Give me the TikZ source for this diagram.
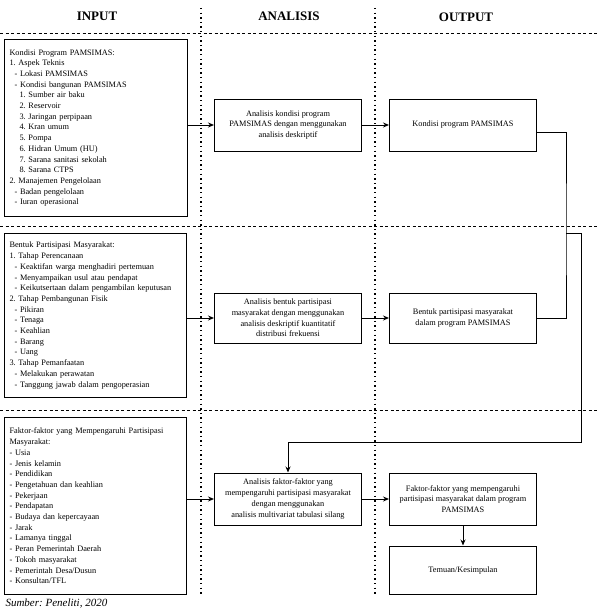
\documentclass[tikz,border=0pt]{standalone}
\usepackage{fontspec}
\setmainfont{Liberation Serif}
\usepackage{tikz}
\usetikzlibrary{positioning, arrows.meta, calc}
\frenchspacing
\newcommand{\boxtext}{\fontsize{8.3}{10.7}\selectfont}
\newcommand{\ind}[1]{\hspace*{#1}}
\tikzset{inbox/.style={draw, line width=1pt, anchor=north west, align=left, font=\boxtext, inner xsep=5pt, inner ysep=0pt},
stage/.style={draw, line width=1pt, align=center, font=\boxtext, minimum width=147pt, minimum height=52pt, inner sep=2pt},
head/.style={font=\fontsize{13}{15}\selectfont\bfseries},
flow/.style={-{Stealth[length=6pt, width=5pt]}, line width=1pt},
link/.style={line width=1pt},
sep_h/.style={dash pattern=on 3pt off 2.5pt, line width=0.9pt},
sep_v/.style={dash pattern=on 1.4pt off 3.2pt, line width=1.3pt}}

\begin{document}
\begin{tikzpicture}[x=1pt, y=-1pt]
  \useasboundingbox (0,0) rectangle (597,610);
  % column heads and separators
  \node[head] (h_in) at (97,16) {INPUT};
  \node[head] (h_an) at (289,16) {ANALISIS};
  \node[head] (h_out) at (466,17) {OUTPUT};
  \foreach \yy in {33,226,410}
    \draw[sep_h] (0,\yy) -- (597,\yy);
  \foreach \xx in {201,375}
    \draw[sep_v] (\xx,8) -- (\xx,595);
  % input
  \node[inbox, text width=173pt, minimum height=177pt] (in_kondisi) at (4,39) {Kondisi Program PAMSIMAS:\\
    1. Aspek Teknis\\
    \ind{5pt}- Lokasi PAMSIMAS\\
    \ind{5pt}- Kondisi bangunan PAMSIMAS\\
    \ind{10pt}1. Sumber air baku\\
    \ind{10pt}2. Reservoir\\
    \ind{10pt}3. Jaringan perpipaan\\
    \ind{10pt}4. Kran umum\\
    \ind{10pt}5. Pompa\\
    \ind{10pt}6. Hidran Umum (HU)\\
    \ind{10pt}7. Sarana sanitasi sekolah\\
    \ind{10pt}8. Sarana CTPS\\
    2. Manajemen Pengelolaan\\
    \ind{5pt}- Badan pengelolaan\\
    \ind{5pt}- Iuran operasional};
  \node[inbox, text width=172pt, minimum height=164pt] (in_bentuk) at (4,233) {Bentuk Partisipasi Masyarakat:\\
    1. Tahap Perencanaan\\
    \ind{5pt}- Keaktifan warga menghadiri pertemuan\\
    \ind{5pt}- Menyampaikan usul atau pendapat\\
    \ind{5pt}- Keikutsertaan dalam pengambilan keputusan\\
    2. Tahap Pembangunan Fisik\\
    \ind{5pt}- Pikiran\\
    \ind{5pt}- Tenaga\\
    \ind{5pt}- Keahlian\\
    \ind{5pt}- Barang\\
    \ind{5pt}- Uang\\
    3. Tahap Pemanfaatan\\
    \ind{5pt}- Melakukan perawatan\\
    \ind{5pt}- Tanggung jawab dalam pengoperasian};
  \node[inbox, text width=172pt, minimum height=177pt] (in_faktor) at (4,417) {Faktor-faktor yang Mempengaruhi Partisipasi\\
    Masyarakat:\\
    - Usia\\
    - Jenis kelamin\\
    - Pendidikan\\
    - Pengetahuan dan keahlian\\
    - Pekerjaan\\
    - Pendapatan\\
    - Budaya dan kepercayaan\\
    - Jarak\\
    - Lamanya tinggal\\
    - Peran Pemerintah Daerah\\
    - Tokoh masyarakat\\
    - Pemerintah Desa/Dusun\\
    - Konsultan/TFL};
  % analisis
  \node[stage] (an_kondisi) at (288,125) {Analisis kondisi program\\ PAMSIMAS dengan menggunakan\\ analisis deskriptif};
  \node[stage, minimum height=50pt] (an_bentuk) at (288,318) {Analisis bentuk partisipasi\\ masyarakat dengan menggunakan\\ analisis deskriptif kuantitatif\\ distribusi frekuensi};
  \node[stage] (an_faktor) at (288,499) {Analisis faktor-faktor yang\\ mempengaruhi partisipasi masyarakat\\ dengan menggunakan\\ analisis multivariat tabulasi silang};
  % output
  \node[stage] (out_kondisi) at (463,125) {Kondisi program PAMSIMAS};
  \node[stage, minimum height=50pt] (out_bentuk) at (463,318) {Bentuk partisipasi masyarakat\\ dalam program PAMSIMAS};
  \node[stage] (out_faktor) at (463,499) {Faktor-faktor yang mempengaruhi\\ partisipasi masyarakat dalam program\\ PAMSIMAS};
  \node[stage, minimum height=48pt, below=20pt of out_faktor] (out_hasil) {Temuan/Kesimpulan};
  \coordinate (jn) at (566,233);
  \coordinate (turn) at (581,442);
  % arrows
  \draw[flow] (in_kondisi.east |- an_kondisi.west) -- (an_kondisi);
  \draw[flow] (in_bentuk.east |- an_bentuk.west) -- (an_bentuk);
  \draw[flow] (in_faktor.east |- an_faktor.west) -- (an_faktor);
  \draw[flow] (an_kondisi) -- (out_kondisi);
  \draw[flow] (an_bentuk) -- (out_bentuk);
  \draw[flow] (an_faktor) -- (out_faktor);
  \draw[flow] (out_faktor) -- (out_hasil);
  \draw[link] ([yshift=-7pt]out_kondisi.east) -| (jn) |- (out_bentuk.east);
  \draw[flow] (jn) -| (turn) -| (an_faktor.north);
  \node[anchor=base west, font=\fontsize{11}{13}\selectfont\itshape] (sumber) at (2,606.5) {Sumber: Peneliti, 2020};
\end{tikzpicture}
\end{document}
